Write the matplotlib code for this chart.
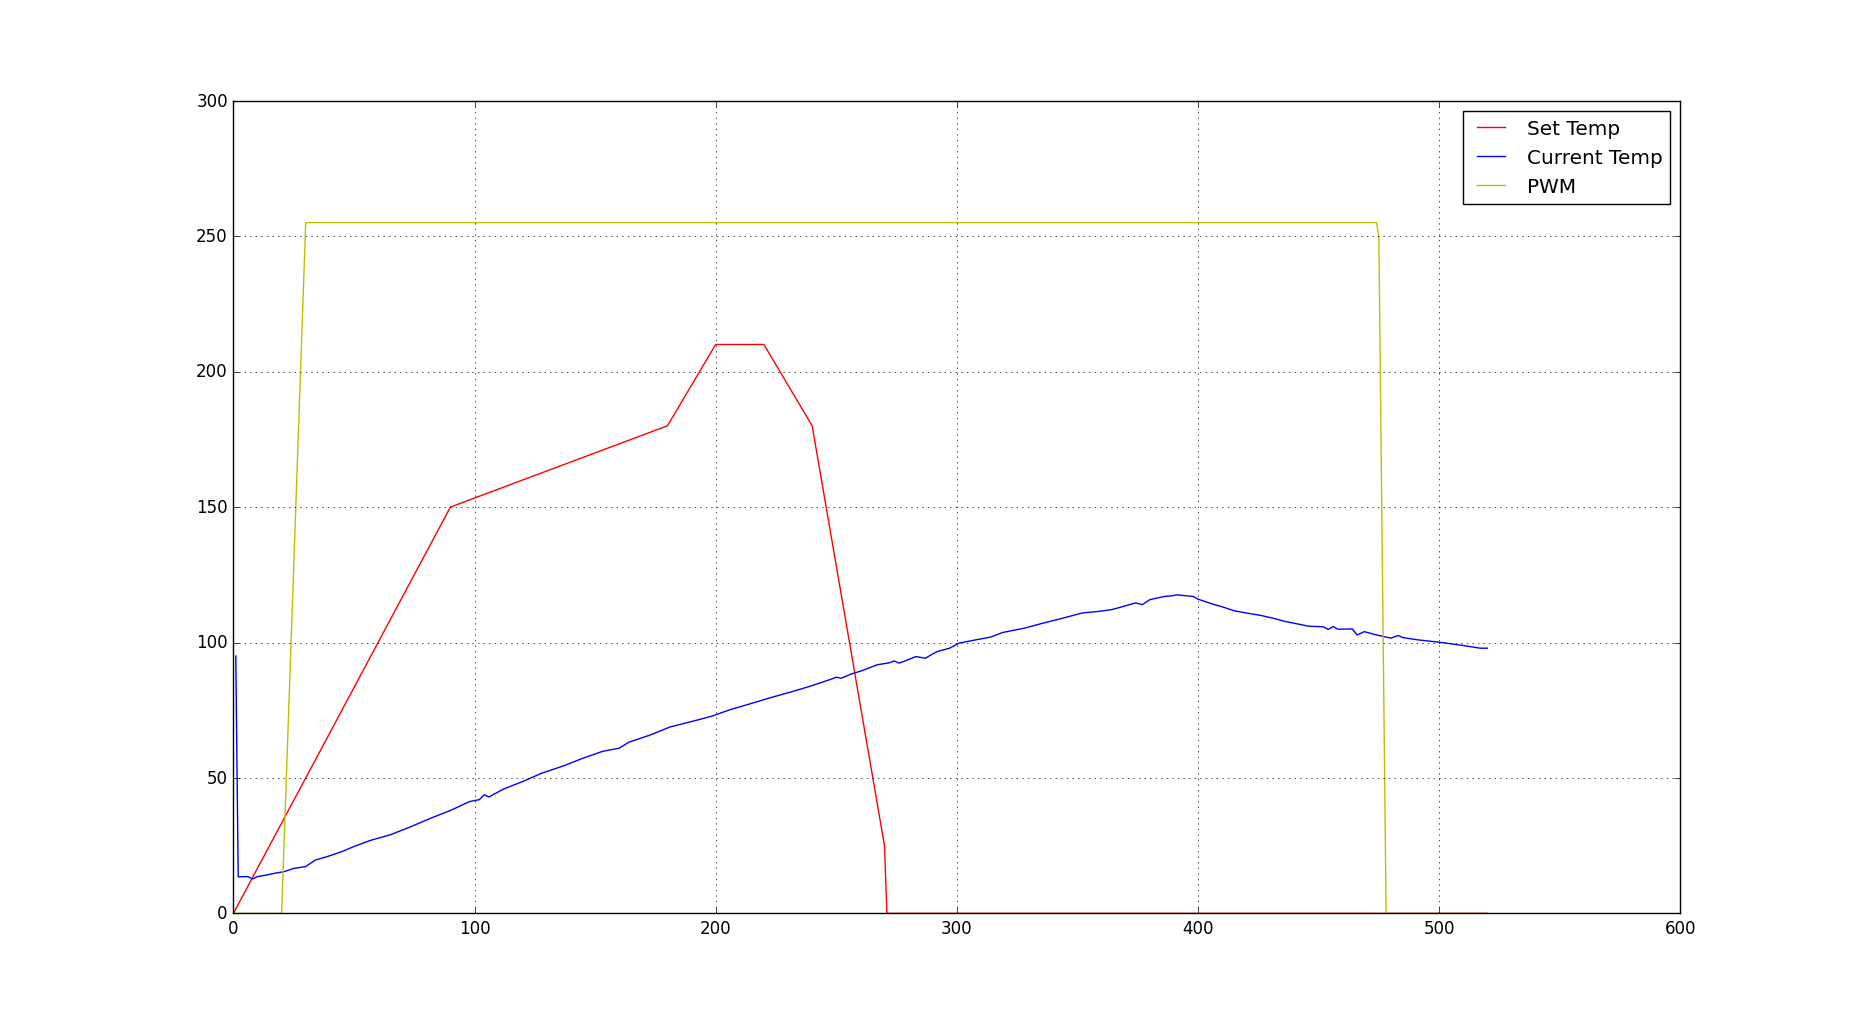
import matplotlib
matplotlib.use("Agg")
import matplotlib.pyplot as plt

# Set temperature profile (breakpoints, seconds -> degC)
set_t = [0, 90, 180, 200, 220, 240, 270, 271, 520]
set_v = [0, 150, 180, 210, 210, 180, 25, 0, 0]

# Measured temperature
cur_t = [1, 2, 6, 8, 10, 14, 17, 21, 25, 30, 34, 39, 45, 50, 57, 65, 73, 82, 90,
         98, 102, 104, 106, 112, 120, 128, 137, 145, 153, 160, 164, 173, 181, 189,
         198, 206, 214, 223, 231, 239, 247, 250, 252, 256, 261, 267, 272, 274, 276,
         278, 283, 287, 290, 292, 297, 301, 308, 314, 319, 328, 336, 344, 352, 359,
         364, 369, 374, 377, 380, 386, 389, 391, 398, 400, 406, 411, 415, 420, 426,
         431, 436, 441, 446, 452, 454, 456, 458, 464, 466, 469, 474, 480, 483, 485,
         491, 501, 510, 517, 520]
cur_v = [95, 13.5, 13.6, 12.7, 13.6, 14.2, 14.8, 15.4, 16.6, 17.3, 19.7, 21, 22.8,
         24.7, 27, 29, 31.8, 35.2, 38, 41.3, 42, 43.8, 43, 45.9, 48.7, 51.8, 54.5,
         57.3, 59.8, 61, 63.2, 65.9, 68.8, 70.6, 72.7, 75.2, 77.3, 79.7, 81.7, 83.8,
         86.2, 87.2, 86.8, 88.3, 89.7, 91.8, 92.5, 93.2, 92.4, 93, 94.8, 94.2, 95.8,
         96.7, 97.9, 99.8, 101, 102, 103.7, 105.3, 107.2, 109, 110.9, 111.5, 112.1,
         113.3, 114.6, 114, 115.8, 117, 117.2, 117.6, 117, 116, 114.2, 112.9, 111.7,
         110.9, 110, 109, 107.8, 106.9, 106, 105.8, 104.8, 105.9, 104.9, 105, 102.8,
         104, 102.8, 101.6, 102.6, 101.8, 101, 100, 98.9, 97.9, 97.9]

# PWM output
pwm_t = [0, 20, 30, 474, 475, 478, 520]
pwm_v = [0, 0, 255, 255, 250, 0, 0]

plt.style.use("classic")
fig = plt.figure(figsize=(18.67, 10.159), dpi=100, facecolor="white")
ax = fig.add_subplot(111)
ax.plot(set_t, set_v, color="r", label="Set Temp")
ax.plot(cur_t, cur_v, color="b", label="Current Temp")
ax.plot(pwm_t, pwm_v, color="y", label="PWM")
ax.set_xlim(0, 600)
ax.set_ylim(0, 300)
ax.grid(True)
ax.legend(loc="upper right")
fig.savefig("out.png", dpi=100, facecolor="white")
